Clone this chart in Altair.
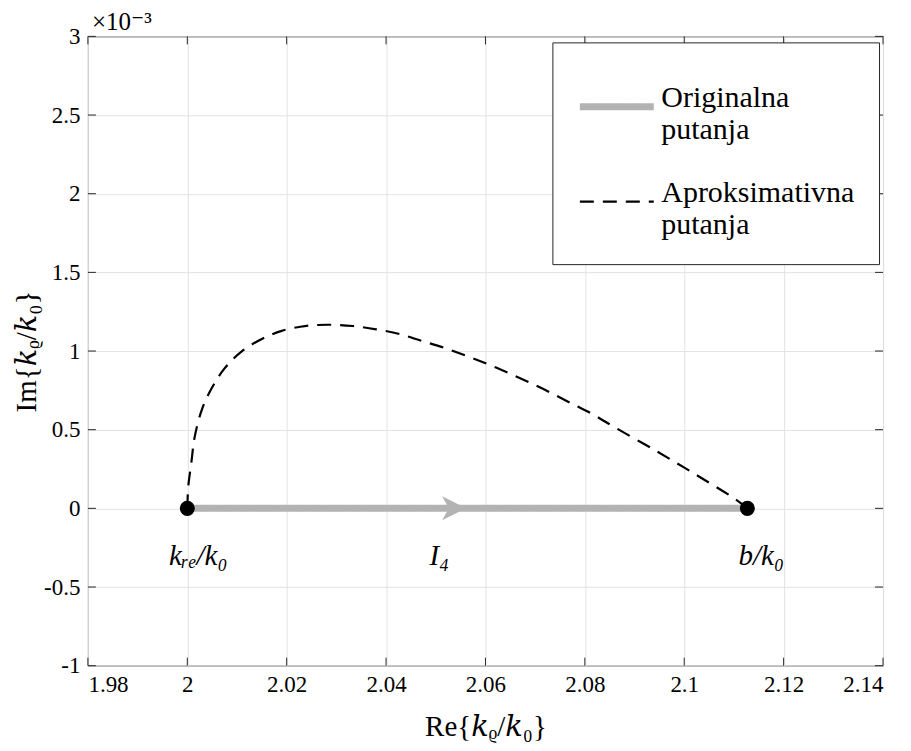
import altair as alt
import pandas as pd

# ---- data (imaginary part in units of 1e-3) ----
x_ticks = [1.98, 2.00, 2.02, 2.04, 2.06, 2.08, 2.10, 2.12, 2.14]
y_ticks = [-1, -0.5, 0, 0.5, 1, 1.5, 2, 2.5, 3]

series_names = ["Originalna|putanja", "Aproksimativna|putanja"]

orig_x = [2.0000, 2.1127]
orig_y = [0.0, 0.0]

approx_x = [2.0000, 2.0002, 2.0008, 2.0015, 2.0029, 2.0049, 2.0075, 2.0109,
            2.0149, 2.0190, 2.0240, 2.0286, 2.0333, 2.0380, 2.0427, 2.0471,
            2.0516, 2.0561, 2.0605, 2.0648, 2.0692, 2.0734, 2.0775, 2.0816,
            2.0859, 2.0943, 2.1024, 2.1104, 2.1127]
approx_y = [0.0, 0.139, 0.287, 0.456, 0.625, 0.763, 0.890, 0.996,
            1.075, 1.128, 1.160, 1.167, 1.159, 1.138, 1.108, 1.065,
            1.021, 0.970, 0.916, 0.858, 0.795, 0.731, 0.663, 0.598,
            0.517, 0.366, 0.213, 0.056, 0.0]

end_x = [2.0000, 2.1127]
end_y = [0.0, 0.0]

arrow_x = [2.0537]
arrow_y = [0.0]

label_text = ["kᵣₑ/k₀", "I₄", "b/k₀"]
label_x = [2.0022, 2.0507, 2.1155]
label_y = [-0.30, -0.30, -0.30]

# ---- tables ----
lines = pd.concat([
    pd.DataFrame({"x": orig_x, "y": orig_y, "s": series_names[0], "o": range(len(orig_x))}),
    pd.DataFrame({"x": approx_x, "y": approx_y, "s": series_names[1], "o": range(len(approx_x))}),
])
ends = pd.DataFrame({"x": end_x, "y": end_y})
arrow = pd.DataFrame({"x": arrow_x, "y": arrow_y})
labels = pd.DataFrame({"x": label_x, "y": label_y, "t": label_text})
xt = pd.DataFrame({"v": x_ticks})
yt = pd.DataFrame({"v": y_ticks})

W, H = 796, 630
FONT = "'Liberation Serif', 'DejaVu Serif', serif"
GRAY = "#b3b3b3"
AX = "#262626"

xs = alt.Scale(domain=[1.98, 2.14], nice=False, zero=False)
ys = alt.Scale(domain=[-1, 3], nice=False, zero=False)

lab_expr = "datum.value < 0 ? '-' + format(-datum.value, '~g') : format(datum.value, '~g')"

x_enc = alt.X("x:Q", scale=xs, axis=alt.Axis(values=x_ticks, labelExpr=lab_expr,
                                             title="Re{𝑘ᵨ/𝑘₀}"))
y_enc = alt.Y("y:Q", scale=ys, axis=alt.Axis(values=y_ticks, labelExpr=lab_expr,
                                             title="Im{𝑘ᵨ/𝑘₀}"))

legend = alt.Legend(
    title=None,
    orient="none", legendX=465, legendY=6,
    labelExpr="split(datum.label, '|')",
    labelFont=FONT, labelFontSize=30, labelColor="black", labelLimit=500,
    labelBaseline="alphabetic",
    labelOffset=4, symbolSize=5476, symbolType="stroke",
    padding=24, rowPadding=18,
    strokeColor=AX, fillColor="white",
)

line_layer = alt.Chart(lines).mark_line(interpolate="catmull-rom").encode(
    x=x_enc, y=y_enc, order="o:Q",
    color=alt.Color("s:N", scale=alt.Scale(domain=series_names, range=[GRAY, "black"]), legend=legend),
    strokeDash=alt.StrokeDash("s:N", scale=alt.Scale(domain=series_names, range=[[1, 0], [14, 9]]), legend=legend),
    strokeWidth=alt.StrokeWidth("s:N", scale=alt.Scale(domain=series_names, range=[7, 2.2]), legend=legend),
)

arrow_layer = alt.Chart(arrow).mark_point(
    shape="M1,0 L-1,-1 L-0.45,0 L-1,1 Z", filled=True, opacity=1, size=576, color=GRAY, strokeWidth=0
).encode(x=alt.X("x:Q", scale=xs), y=alt.Y("y:Q", scale=ys))

dots = alt.Chart(ends).mark_circle(size=227, color="black", opacity=1).encode(
    x=alt.X("x:Q", scale=xs), y=alt.Y("y:Q", scale=ys))

texts = alt.Chart(labels).mark_text(
    font=FONT, fontSize=29, fontStyle="italic", baseline="middle", align="center", color="black"
).encode(x=alt.X("x:Q", scale=xs), y=alt.Y("y:Q", scale=ys), text="t:N")

tb = alt.Chart(xt).mark_rule(color=AX, strokeWidth=1).encode(
    x=alt.X("v:Q", scale=xs), y=alt.value(H), y2=alt.value(H - 8))
tt = alt.Chart(xt).mark_rule(color=AX, strokeWidth=1).encode(
    x=alt.X("v:Q", scale=xs), y=alt.value(0), y2=alt.value(8))
tl = alt.Chart(yt).mark_rule(color=AX, strokeWidth=1).encode(
    y=alt.Y("v:Q", scale=ys), x=alt.value(0), x2=alt.value(8))
tr = alt.Chart(yt).mark_rule(color=AX, strokeWidth=1).encode(
    y=alt.Y("v:Q", scale=ys), x=alt.value(W), x2=alt.value(W - 8))

chart = alt.layer(line_layer, arrow_layer, dots, texts, tb, tt, tl, tr).properties(
    width=W, height=H,
    autosize=alt.AutoSizeParams(type="none"),
    padding={"left": 80, "top": 28, "right": 20, "bottom": 84},
    title=alt.TitleParams(text="×10⁻³", anchor="start", frame="group", font=FONT,
                          fontSize=25, fontWeight="normal", color="black", offset=-10, dx=4),
).configure_view(
    stroke=AX, strokeWidth=1
).configure_axis(
    domain=False, ticks=False, grid=True, gridColor="#e3e3e3", gridWidth=1,
    labelFont=FONT, labelFontSize=23, labelColor="black", labelPadding=8,
    titleFont=FONT, titleFontSize=29, titleFontWeight="normal", titleColor="black",
).configure_axisX(titlePadding=16).configure_axisY(titlePadding=2)

chart.save("out.html", embed_options={"renderer": "svg", "actions": False})
